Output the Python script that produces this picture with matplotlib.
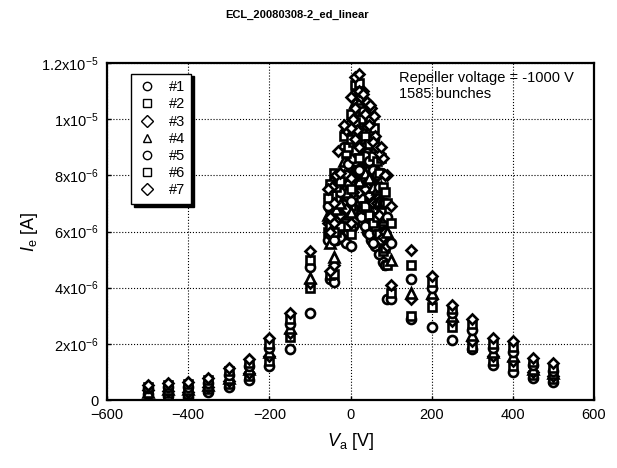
import matplotlib
matplotlib.use('Agg')
import matplotlib.pyplot as plt
import numpy as np

plt.rcParams['font.family'] = ['Liberation Sans', 'DejaVu Sans']
plt.rcParams['mathtext.fontset'] = 'custom'
plt.rcParams['mathtext.rm'] = 'Liberation Sans'
plt.rcParams['mathtext.it'] = 'Liberation Sans:italic'

# analyzer voltage [V] (repeated entries = more than one reading at that setting)
va = [-500, -450, -400, -350, -300, -250, -200, -150, -100,
      -50, -50, -40, -40, -30, -10, 0, 0, 10, 10, 20, 20, 30, 40, 50, 60, 80, 90, 100,
      150, 200, 250, 300, 350, 400, 450, 500,
      -45, -35, -5, 5, 15, 25, 35, 45, 55, 70, 85,
      -55, -25, -15, 0, 12, 22, 32, 48, 58, 65, 75]

# electron current per series [x1e-6 A]
ie1 = [0.20, 0.15, 0.12, 0.28, 0.45, 0.72, 1.20, 1.80, 3.10,
       4.30, 6.80, 4.20, 6.60, 6.00, 5.60, 5.50, 8.30, 6.90, 9.70, 6.60, 9.40, 6.30, 6.00, 5.70, 5.50, 4.90, 3.60, 3.60,
       2.90, 2.60, 2.15, 1.80, 1.25, 1.00, 0.80, 0.65,
       5.80, 5.70, 6.00, 6.20, 7.10, 6.50, 6.20, 5.90, 5.60, 5.20, 4.80,
       5.70, 5.80, 7.00, 6.10, 7.20, 7.20, 7.30, 7.50, 7.70, 6.00, 6.30]
ie2 = [0.28, 0.25, 0.22, 0.38, 0.58, 0.85, 1.38, 2.25, 4.00,
       4.45, 7.00, 4.50, 6.90, 6.50, 6.20, 5.90, 8.70, 7.30, 10.00, 7.00, 9.80, 7.00, 6.80, 6.50, 6.20, 5.30, 4.80, 3.80,
       3.00, 3.30, 2.60, 1.90, 1.40, 1.20, 0.90, 0.75,
       6.10, 6.00, 6.60, 6.80, 7.50, 7.20, 6.90, 6.60, 6.30, 5.90, 5.40,
       6.00, 6.20, 7.50, 6.90, 7.80, 7.90, 7.90, 8.00, 8.10, 6.50, 6.70]
ie3 = [0.35, 0.33, 0.30, 0.47, 0.68, 0.95, 1.55, 2.40, 4.15,
       4.60, 7.20, 4.80, 7.20, 7.00, 6.80, 6.30, 9.10, 7.70, 10.30, 7.40, 10.20, 7.60, 7.60, 7.30, 7.00, 5.80, 5.50, 4.10,
       3.60, 3.60, 2.80, 2.10, 1.55, 1.40, 1.00, 0.85,
       6.40, 6.40, 7.20, 7.40, 8.00, 7.90, 7.50, 7.30, 7.00, 6.60, 6.00,
       6.30, 6.60, 8.00, 7.70, 8.40, 8.50, 8.50, 8.60, 8.50, 7.00, 7.10]
ie4 = [0.30, 0.40, 0.40, 0.55, 0.80, 1.10, 1.70, 2.55, 4.35,
       5.60, 7.40, 5.10, 7.50, 7.30, 7.40, 6.70, 9.50, 8.10, 10.60, 7.80, 10.60, 8.20, 8.20, 7.90, 7.60, 6.40, 6.00, 5.00,
       3.80, 3.80, 3.00, 2.30, 1.70, 1.55, 1.10, 0.95,
       6.70, 6.80, 7.80, 8.00, 8.40, 8.60, 8.10, 7.90, 7.60, 7.10, 6.50,
       6.60, 7.00, 8.50, 8.00, 8.80, 8.90, 8.90, 9.00, 8.90, 7.50, 7.60]
ie5 = [0.42, 0.45, 0.48, 0.62, 0.90, 1.20, 1.85, 2.70, 4.75,
       5.90, 7.60, 5.70, 7.80, 7.60, 8.00, 7.10, 9.80, 8.50, 10.90, 8.20, 11.00, 9.00, 8.80, 8.50, 8.20, 7.00, 6.50, 5.60,
       4.30, 4.00, 3.10, 2.50, 1.85, 1.70, 1.25, 1.05,
       7.00, 7.20, 8.40, 8.60, 8.80, 9.30, 8.70, 8.50, 8.20, 7.60, 7.00,
       6.90, 7.40, 9.00, 8.90, 9.40, 9.60, 9.50, 9.50, 9.30, 8.00, 8.10]
ie6 = [0.48, 0.52, 0.56, 0.70, 1.02, 1.32, 2.00, 2.90, 5.00,
       6.20, 7.70, 6.00, 8.10, 7.90, 8.80, 7.50, 10.20, 8.90, 11.20, 8.60, 11.30, 10.00, 9.80, 9.30, 8.80, 7.60, 7.00, 6.30,
       4.80, 4.20, 3.25, 2.70, 2.00, 1.90, 1.35, 1.15,
       7.30, 7.60, 9.00, 9.20, 9.20, 10.00, 9.40, 9.10, 8.70, 8.10, 7.40,
       7.20, 7.80, 9.40, 9.30, 9.90, 10.40, 10.30, 10.00, 9.70, 8.50, 8.60]
ie7 = [0.55, 0.60, 0.65, 0.80, 1.15, 1.45, 2.20, 3.10, 5.30,
       6.50, 6.00, 6.30, 7.00, 8.86, 9.60, 7.90, 10.80, 9.30, 11.50, 9.00, 11.60, 11.00, 10.60, 10.40, 9.40, 8.60, 8.00, 6.90,
       5.35, 4.40, 3.40, 2.90, 2.20, 2.10, 1.50, 1.30,
       7.60, 8.00, 9.80, 10.00, 9.60, 10.80, 10.20, 9.80, 9.20, 8.80, 8.00,
       7.50, 8.10, 9.80, 9.70, 10.40, 11.00, 10.90, 10.50, 10.10, 9.00, 9.00]

series = [ie1, ie2, ie3, ie4, ie5, ie6, ie7]
names = ['#1', '#2', '#3', '#4', '#5', '#6', '#7']
markers = ['o', 's', 'D', '^', 'o', 's', 'D']
msizes = [6.5, 6, 5.5, 6.5, 6.5, 6, 5.5]

ytick_vals = [0, 2e-6, 4e-6, 6e-6, 8e-6, 1e-5, 1.2e-5]
ytick_labels = ['0', '2x10$^{-6}$', '4x10$^{-6}$', '6x10$^{-6}$', '8x10$^{-6}$',
                '1x10$^{-5}$', '1.2x10$^{-5}$']

fig = plt.figure(figsize=(6.17, 4.68), dpi=100)
ax = fig.add_axes([107/617, 68/468, 487/617, 337/468])

for ie, name, mk, ms in zip(series, names, markers, msizes):
    ax.plot(va, np.array(ie)*1e-6, linestyle='none', marker=mk, markersize=ms,
            markerfacecolor='white', markeredgecolor='black', markeredgewidth=1.9,
            label=name)

ax.set_xlim(-600, 600)
ax.set_ylim(0, 1.2e-5)
ax.set_xticks([-600, -400, -200, 0, 200, 400, 600])
ax.set_yticks(ytick_vals)
ax.set_yticklabels(ytick_labels)
ax.tick_params(direction='in', labelsize=10.5, length=3, width=1, pad=6)
ax.grid(True, color='black', linestyle=':', linewidth=0.8)
for sp in ax.spines.values():
    sp.set_linewidth(1.6)

ax.set_xlabel('$\\mathit{V}_{\\mathrm{a}}$ [V]', fontsize=13, labelpad=6)
ax.set_ylabel('$\\mathit{I}_{\\mathrm{e}}$ [A]', fontsize=13, labelpad=1)

ax.text(0.60, 0.975, 'Repeller voltage = -1000 V\n1585 bunches', transform=ax.transAxes,
        fontsize=10.5, va='top', ha='left', linespacing=1.15)

# legend uses thin open markers like the original
handles = [plt.Line2D([], [], linestyle='none', marker=mk, markersize=6,
                      markerfacecolor='white', markeredgecolor='black', markeredgewidth=1.0)
           for mk in markers]
leg = ax.legend(handles, names, loc='upper left', bbox_to_anchor=(0.035, 0.99), fancybox=False,
                shadow={'color': 'black', 'alpha': 1}, edgecolor='black', fontsize=10.5,
                handlelength=1.2, handletextpad=0.9, labelspacing=0.22, borderpad=0.45, framealpha=1)
leg.get_frame().set_linewidth(1.0)

fig.text(0.481, 0.968, 'ECL_20080308-2_ed_linear', ha='center', va='center',
         fontsize=8, fontweight='bold')

fig.savefig('out.png', dpi=100)
